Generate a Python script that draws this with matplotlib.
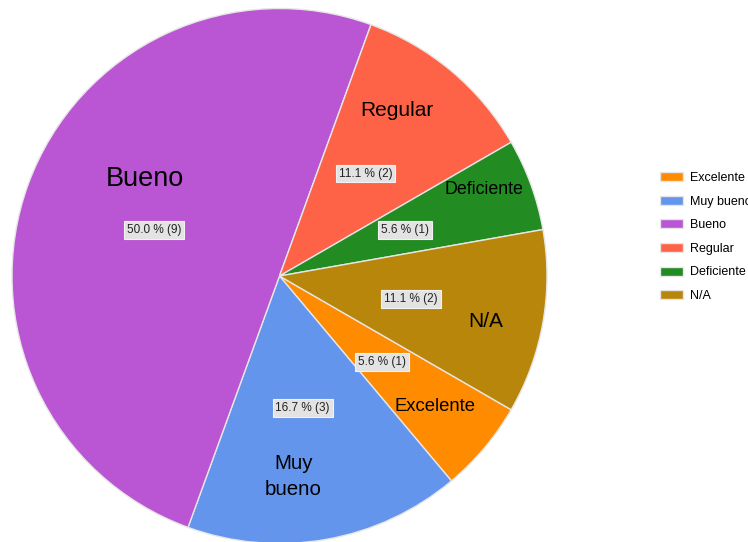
import numpy as np
import matplotlib.pyplot as plt

plt.rcParams['font.family'] = ['Liberation Sans', 'DejaVu Sans']

categories = ["Excelente", "Muy bueno", "Bueno", "Regular", "Deficiente", "N/A"]
counts = [1, 3, 9, 2, 1, 2]
colors = ["#FF8C00", "#6495ED", "#BA55D3", "#FF6347", "#228B22", "#B8860B"]

# where the category names sit: (fraction of radius, angle in degrees), font size
name_pos = [(0.76, -40), (0.75, -86), (0.62, 144), (0.76, 54.6), (0.83, 22.8), (0.79, -12.4)]
name_size = [13.3, 14.8, 19.5, 15, 12.8, 15]
name_text = ["Excelente", "Muy\nbueno", "Bueno", "Regular", "Deficiente", "N/A"]

total = sum(counts)
W, H = 748, 542
cx, cy, R = 279.5, H - 276, 267.5

fig = plt.figure(figsize=(W / 100, H / 100), dpi=100)
ax = fig.add_axes([0, 0, 1, 1])

def fmt(p):
    return f"{p:.1f} % ({int(round(p * total / 100))})"

wedges, texts, autotexts = ax.pie(
    counts, colors=colors, startangle=-30, counterclock=False,
    center=(cx, cy), radius=R, autopct=fmt, pctdistance=0.5,
    wedgeprops=dict(edgecolor="#e6e6e6", linewidth=1),
    textprops=dict(fontsize=8.5, color="#222222"))

for t in autotexts:
    t.set_bbox(dict(boxstyle="square,pad=0.25", facecolor="#e3e3e3",
                    edgecolor="#f2f2f2", linewidth=0.8))

for (fr, ang), size, txt in zip(name_pos, name_size, name_text):
    a = np.deg2rad(ang)
    ax.text(cx + fr * R * np.cos(a), cy + fr * R * np.sin(a), txt,
            ha="center", va="center", fontsize=size, color="black",
            linespacing=1.45)

ax.set_xlim(0, W)
ax.set_ylim(0, H)
ax.set_aspect("equal")
ax.axis("off")

fig.legend(wedges, categories, loc="upper left",
           bbox_to_anchor=(660 / W, 1 - 172 / H), frameon=False,
           fontsize=9, borderpad=0, borderaxespad=0,
           handlelength=1.85, handleheight=0.72, handletextpad=0.55,
           labelspacing=0.93)

fig.savefig("out.png", dpi=100)
